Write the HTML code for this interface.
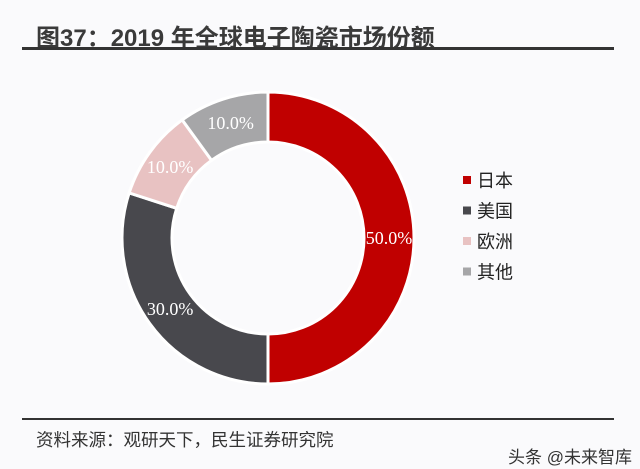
<!DOCTYPE html>
<html><head><meta charset="utf-8"><style>
body{margin:0;width:640px;height:469px;background:#fafafc;overflow:hidden;position:relative;font-family:"Liberation Sans","Noto Sans CJK SC",sans-serif}
.t{position:absolute;left:36px;top:18px;font-size:24px;font-weight:bold;color:#3a3a3a;white-space:nowrap}
.ln{position:absolute;left:22px;top:47px;width:592px;height:3px;background:#333}
.ln2{position:absolute;left:22px;top:418px;width:592px;height:2px;background:#333}
.src{position:absolute;left:36px;top:427px;font-size:17.5px;color:#333;white-space:nowrap}
.wm{position:absolute;left:508px;top:443px;font-size:17px;color:#333;white-space:nowrap}
</style></head><body>
<div class="t">图37：2019 年全球电子陶瓷市场份额</div>
<div class="ln"></div>
<div class="ln2"></div>
<svg id="c" width="640" height="469" style="position:absolute;left:0;top:0"></svg>
<div class="src">资料来源：观研天下，民生证券研究院</div>
<div class="wm">头条 @未来智库</div>
<script>
const categories=["日本","美国","欧洲","其他"];
const values=[50,30,10,10];
const labels=["50.0%","30.0%","10.0%","10.0%"];
const colors=["#c00000","#48484d","#e8c2c2","#a6a6a8"];
const svg=document.getElementById('c');const NS="http://www.w3.org/2000/svg";
const cx=268,cy=238,R=146,r=96;
const total=values.reduce((a,b)=>a+b,0);
let a0=0;
function pt(rad,a){return [cx+rad*Math.sin(a),cy-rad*Math.cos(a)];}
values.forEach((v,i)=>{
 const a1=a0+v/total*2*Math.PI;const big=(a1-a0)>Math.PI?1:0;
 const p1=pt(R,a0),p2=pt(R,a1),p3=pt(r,a1),p4=pt(r,a0);
 const p=document.createElementNS(NS,'path');
 p.setAttribute('d',`M${p1}A${R},${R} 0 ${big} 1 ${p2}L${p3}A${r},${r} 0 ${big} 0 ${p4}Z`);
 p.setAttribute('fill',colors[i]);p.setAttribute('stroke','#fff');p.setAttribute('stroke-width','3');
 
 
 svg.appendChild(p);
 const am=(a0+a1)/2;const lp=pt((R+r)/2,am);
 const t=document.createElementNS(NS,'text');
 t.setAttribute('x',lp[0]);t.setAttribute('y',lp[1]+6);
 t.setAttribute('text-anchor','middle');t.setAttribute('fill','#fff');
 t.setAttribute('font-family','Liberation Serif,serif');t.setAttribute('font-size','18');
 t.textContent=labels[i];
 
 
 svg.appendChild(t);
 a0=a1;
 const y=180+i*30.5;
 const s=document.createElementNS(NS,'rect');
 s.setAttribute('x',463);s.setAttribute('y',y-4);s.setAttribute('width',8);s.setAttribute('height',8);s.setAttribute('fill',colors[i]);
 
 
 svg.appendChild(s);
 const lt=document.createElementNS(NS,'text');
 lt.setAttribute('x',477);lt.setAttribute('y',y+7);lt.setAttribute('font-size','18');lt.setAttribute('fill','#222');
 lt.setAttribute('font-family','Liberation Sans,Noto Sans CJK SC,sans-serif');
 lt.textContent=categories[i];
 
 
 svg.appendChild(lt);
});
</script>
</body></html>
